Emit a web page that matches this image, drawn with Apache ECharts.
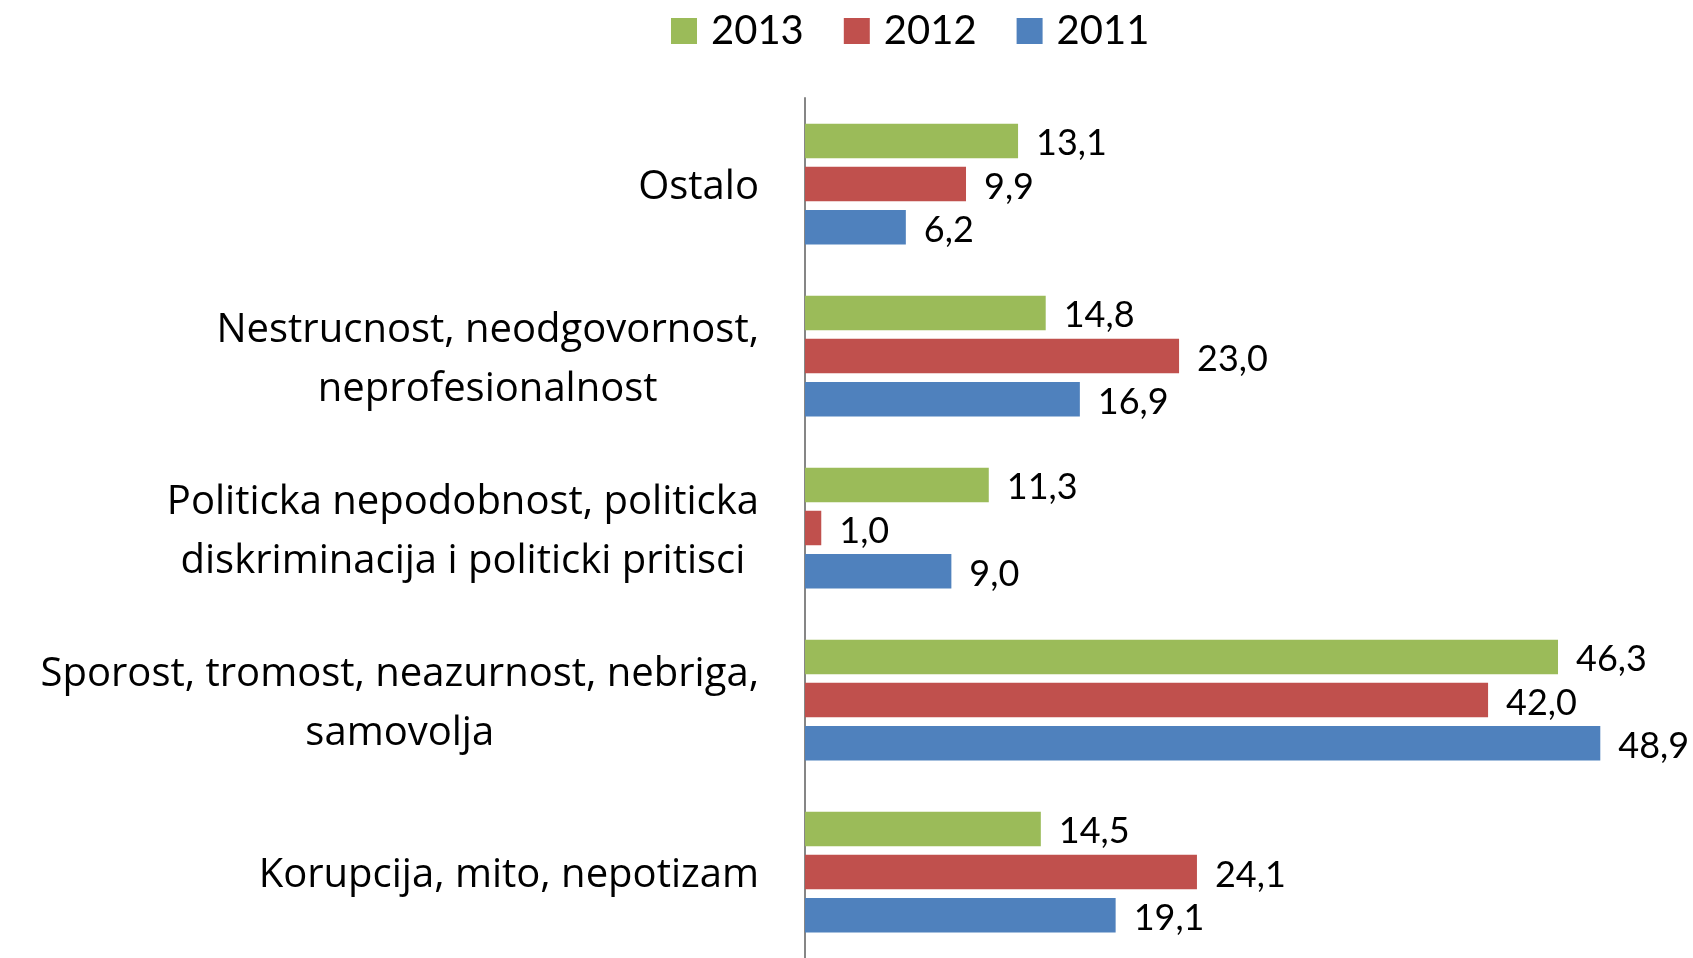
<!DOCTYPE html>
<html>
<head>
<meta charset="utf-8">
<script src="https://cdn.jsdelivr.net/npm/echarts@6/dist/echarts.min.js"></script>
<style>
  html, body { margin: 0; padding: 0; background: #fff; }
  #chart { width: 1693px; height: 958px; }
</style>
</head>
<body>
<div id="chart"></div>
<script>
// categories, bottom to top
const categories = [
  "Korupcija, mito, nepotizam",
  "Sporost, tromost, neazurnost, nebriga,\nsamovolja",
  "Politicka nepodobnost, politicka\ndiskriminacija i politicki pritisci",
  "Nestrucnost, neodgovornost,\nneprofesionalnost",
  "Ostalo"
];
const years = ["2013", "2012", "2011"];
const values2013 = [14.5, 46.3, 11.3, 14.8, 13.1];
const values2012 = [24.1, 42.0, 1.0, 23.0, 9.9];
const values2011 = [19.1, 48.9, 9.0, 16.9, 6.2];
const colors = ["#9BBB59", "#C0504D", "#4F81BD"];

const fontFamily = "Lato, 'Open Sans', sans-serif";
const labelFont = "'Open Sans', Lato, sans-serif";

// * One decimal, comma separator
const fmt = (v) => v.toFixed(1).replace(".", ",");

const myChart = echarts.init(document.getElementById("chart"));

const makeSeries = (name, data, color) => ({
  name,
  type: "bar",
  data,
  barWidth: 34.5,
  barGap: "25%",
  itemStyle: { color },
  label: {
    show: true,
    position: "right",
    distance: 18,
    offset: [0, 3],
    fontFamily,
    fontSize: 36,
    color: "#000",
    formatter: (p) => fmt(p.value),
  },
  animation: false,
});

const option = {
  backgroundColor: "#fff",
  legend: {
    data: years,
    left: 666,
    top: 6,
    itemWidth: 26,
    itemHeight: 26,
    itemGap: 40,
    icon: "rect",
    textStyle: { fontFamily, fontSize: 40, color: "#000", padding: [0, 0, 0, 9] },
  },
  grid: {
    left: 805,
    right: 0,
    top: 98,
    bottom: 0,
  },
  xAxis: {
    type: "value",
    min: 0,
    max: 54.6,
    show: false,
  },
  yAxis: {
    type: "category",
    data: categories,
    axisLine: { lineStyle: { color: "#868686", width: 2 } },
    axisTick: { show: false },
    axisLabel: {
      margin: 46,
      padding: [8, 0, 0, 0],
      fontFamily: labelFont,
      fontSize: 40,
      color: "#000",
      lineHeight: 59,
      formatter: (v) => v.split("\n").map((s) => "{c|" + s + "}").join("\n"),
      rich: {
        c: { align: "center", fontFamily: labelFont, fontSize: 40, lineHeight: 59, color: "#000" },
      },
    },
  },
  series: years.map((y, i) => makeSeries(y, [values2013, values2012, values2011][i], colors[i])),
};

myChart.setOption(option);
</script>
</body>
</html>
